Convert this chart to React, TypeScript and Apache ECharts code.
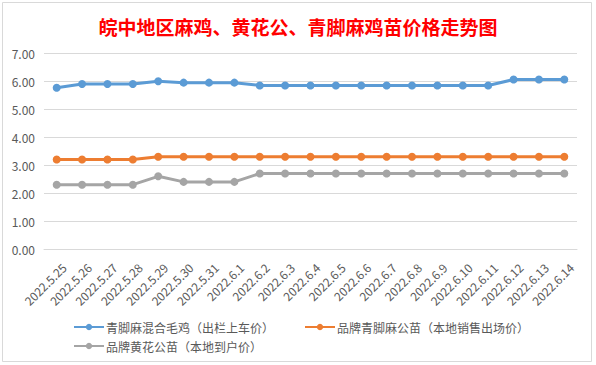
import React, { useEffect, useRef } from "react";
import * as echarts from "echarts";

const categories = [
  "2022.5.25", "2022.5.26", "2022.5.27", "2022.5.28", "2022.5.29", "2022.5.30", "2022.5.31",
  "2022.6.1", "2022.6.2", "2022.6.3", "2022.6.4", "2022.6.5", "2022.6.6", "2022.6.7",
  "2022.6.8", "2022.6.9", "2022.6.10", "2022.6.11", "2022.6.12", "2022.6.13", "2022.6.14",
];

const seriesNames = [
  "青脚麻混合毛鸡（出栏上车价）",
  "品牌青脚麻公苗（本地销售出场价）",
  "品牌黄花公苗（本地到户价）",
];

const blueValues = [5.77, 5.9, 5.9, 5.9, 6.0, 5.95, 5.95, 5.95, 5.85, 5.85, 5.85, 5.85, 5.85, 5.85, 5.85, 5.85, 5.85, 5.85, 6.06, 6.06, 6.06];
const orangeValues = [3.2, 3.2, 3.2, 3.2, 3.3, 3.3, 3.3, 3.3, 3.3, 3.3, 3.3, 3.3, 3.3, 3.3, 3.3, 3.3, 3.3, 3.3, 3.3, 3.3, 3.3];
const grayValues = [2.3, 2.3, 2.3, 2.3, 2.6, 2.4, 2.4, 2.4, 2.7, 2.7, 2.7, 2.7, 2.7, 2.7, 2.7, 2.7, 2.7, 2.7, 2.7, 2.7, 2.7];

const colors = ["#5B9BD5", "#ED7D31", "#A5A5A5"];
const titleText = "皖中地区麻鸡、黄花公、青脚麻鸡苗价格走势图";

const FONT = "'Microsoft YaHei', 'Noto Sans CJK SC', sans-serif";

export default function App() {
  const ref = useRef<HTMLDivElement>(null);
  useEffect(() => {
    if (!ref.current) return;
    const chart = echarts.init(ref.current, null, { renderer: "svg" });
    const values = [blueValues, orangeValues, grayValues];
    const legendBase = {
      itemWidth: 30,
      itemHeight: 8,
      itemGap: 30,
      textStyle: { color: "#595959", fontSize: 12, fontFamily: FONT, padding: [0, 0, 0, -3] },
      selectedMode: false as const,
    };
    chart.setOption({
      animation: false,
      backgroundColor: "#ffffff",
      title: {
        text: titleText,
        left: "center",
        top: 12,
        textStyle: { color: "#FF0000", fontSize: 19, fontWeight: "bold", fontFamily: "'Noto Sans CJK SC', serif" },
      },
      graphic: [
        {
          type: "rect",
          shape: { x: 2.5, y: 2.5, width: 589, height: 359 },
          style: { fill: "none", stroke: "#D9D9D9", lineWidth: 1 },
          silent: true,
        },
      ],
      legend: [
        { ...legendBase, data: [seriesNames[0], seriesNames[1]], left: 68, top: 316 },
        { ...legendBase, data: [seriesNames[2]], left: 68, top: 335 },
      ],
      grid: { left: 44, right: 19, top: 53.3, bottom: 116 },
      xAxis: {
        type: "category",
        data: categories,
        boundaryGap: true,
        axisLine: { lineStyle: { color: "#D9D9D9" } },
        axisTick: { show: false },
        axisLabel: {
          rotate: 45,
          interval: 0,
          color: "#595959",
          fontSize: 12,
          fontFamily: FONT,
          margin: 9,
          verticalAlign: "top",
          lineHeight: 20,
        },
      },
      yAxis: {
        type: "value",
        min: 0,
        max: 7,
        interval: 1,
        axisLine: { show: false },
        axisTick: { show: false },
        splitLine: { lineStyle: { color: "#D9D9D9" } },
        axisLabel: {
          color: "#595959",
          fontSize: 12,
          fontFamily: FONT,
          margin: 9,
          formatter: (v: number) => v.toFixed(2),
        },
      },
      series: seriesNames.map((name, i) => ({
        name,
        type: "line",
        data: values[i],
        symbol: "circle",
        symbolSize: 8,
        lineStyle: { width: 3, color: colors[i] },
        itemStyle: { color: colors[i] },
      })),
    });
    return () => chart.dispose();
  }, []);
  return (
    <div
      ref={ref}
      style={{ position: "fixed", left: 0, top: 0, width: 596, height: 365 }}
    />
  );
}
